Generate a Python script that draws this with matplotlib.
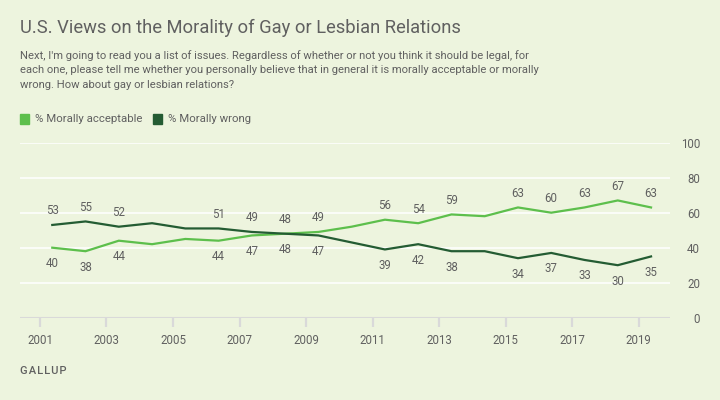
import matplotlib
matplotlib.use("Agg")
import matplotlib.pyplot as plt

years = list(range(2001, 2020))
acceptable = [40, 38, 44, 42, 45, 44, 47, 48, 49, 52, 56, 54, 59, 58, 63, 60, 63, 67, 63]
wrong = [53, 55, 52, 54, 51, 51, 49, 48, 47, 43, 39, 42, 38, 38, 34, 37, 33, 30, 35]
labeled_years = [2001, 2002, 2003, 2006, 2007, 2008, 2009, 2011, 2012, 2013, 2015, 2016, 2017, 2018, 2019]
xtick_years = [2001, 2003, 2005, 2007, 2009, 2011, 2013, 2015, 2017, 2019]
yticks = [0, 20, 40, 60, 80, 100]

BG = "#edf4de"
LIGHT = "#5dbf4c"
DARK = "#245c33"
TXT = "#606060"
FONT = "Roboto"

plt.rcParams['font.family'] = [FONT, 'DejaVu Sans']

fig = plt.figure(figsize=(7.2, 4.0), dpi=100, facecolor=BG)
ax = fig.add_axes([20/720, 1-317.7/400, 650/720, 175/400])
ax.set_facecolor(BG)

xs = [y + 0.37 for y in years]
ax.plot(xs, acceptable, color=LIGHT, lw=1.6, solid_joinstyle='miter', zorder=3)
ax.plot(xs, wrong, color=DARK, lw=1.6, solid_joinstyle='miter', zorder=3)

for y, x, a, w in zip(years, xs, acceptable, wrong):
    if y not in labeled_years:
        continue
    if w >= a:
        top, bot = w, a
    else:
        top, bot = a, w
    ax.annotate(str(top), (x, top), xytext=(0, 14), textcoords='offset pixels',
                ha='center', va='center', fontsize=8.3, color=TXT)
    ax.annotate(str(bot), (x, bot), xytext=(0, -16), textcoords='offset pixels',
                ha='center', va='center', fontsize=8.3, color=TXT)

ax.set_xlim(2000.40, 2019.94)
ax.set_ylim(0, 100)
for v in yticks[1:]:
    ax.axhline(v, color='white', lw=1.1, zorder=1)
ax.axhline(0, color='#d9d9d9', lw=1.5, zorder=2)
for s in ax.spines.values():
    s.set_visible(False)

ax.set_xticks(xtick_years)
ax.set_xticklabels([str(y) for y in xtick_years])
ax.tick_params(axis='x', length=6.5, width=1.6, color='#d9d9d9', pad=5,
               labelsize=8.3, labelcolor=TXT)
ax.set_yticks(yticks)
ax.yaxis.tick_right()
ax.tick_params(axis='y', length=0, pad=21.6, labelsize=8.3, labelcolor=TXT)
for lab in ax.get_yticklabels():
    lab.set_horizontalalignment('right')

fig.text(20/720, 1-28/400, "U.S. Views on the Morality of Gay or Lesbian Relations",
         fontsize=13.2, color=TXT, va='center', ha='left')
sub = ("Next, I'm going to read you a list of issues. Regardless of whether or not you think it should be legal, for\n"
       "each one, please tell me whether you personally believe that in general it is morally acceptable or morally\n"
       "wrong. How about gay or lesbian relations?")
fig.text(20/720, 1-50/400, sub, fontsize=8.1, color=TXT, va='top', ha='left', linespacing=1.55)

# legend
fig.patches.append(plt.Rectangle((20/720, 1-124/400), 9/720, 10/400, transform=fig.transFigure,
                                 color=LIGHT, figure=fig))
fig.text(35/720, 1-119/400, "% Morally acceptable", fontsize=8.2, color=TXT, va='center', ha='left')
fig.patches.append(plt.Rectangle((153/720, 1-124/400), 9/720, 10/400, transform=fig.transFigure,
                                 color=DARK, figure=fig))
fig.text(168/720, 1-119/400, "% Morally wrong", fontsize=8.2, color=TXT, va='center', ha='left')

fig.text(20/720, 1-371/400, "\u200a".join("GALLUP"),
         fontsize=8, color=TXT, va='center', ha='left', fontweight='medium')

fig.savefig("out.png", dpi=100, facecolor=BG)
